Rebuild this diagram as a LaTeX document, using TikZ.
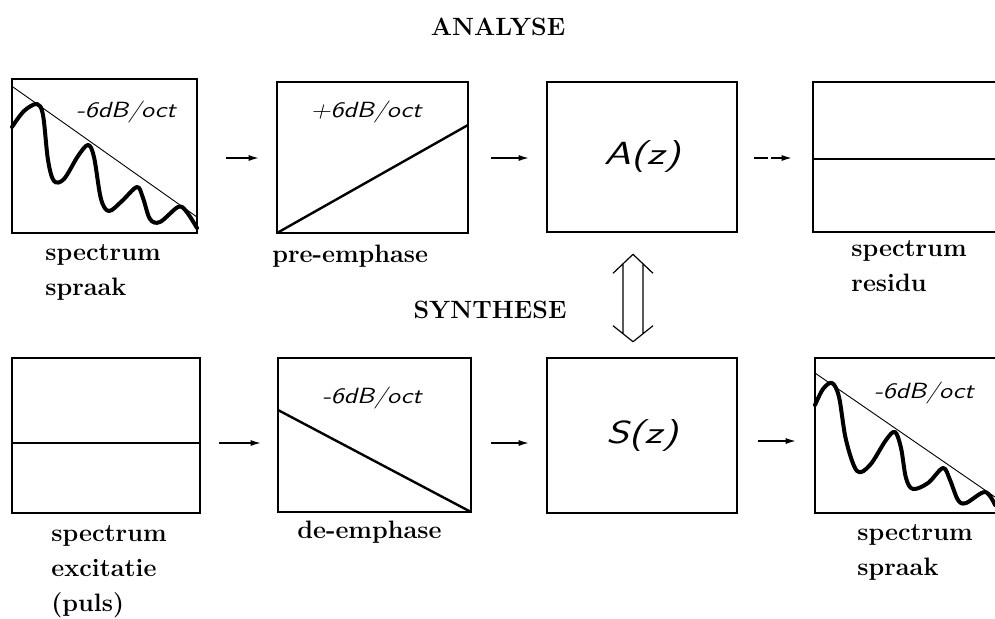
\documentclass[tikz,border=0pt]{standalone}
\usepackage{graphicx}
\usetikzlibrary{arrows.meta,calc}
\begin{document}
\begin{tikzpicture}[x=0.5pt,y=-0.5pt,
  box/.style={draw,line width=1.3pt,inner sep=0pt},
  arr/.style={line width=0.6pt,-{Latex[length=5pt,width=3pt]}},
  lbl/.style={font=\fontsize{12.6}{17.5}\selectfont\bfseries,align=left,inner sep=0pt},
  title/.style={font=\fontsize{12.5}{15}\selectfont\bfseries,inner sep=0pt},
  hand/.style={font=\fontsize{11}{12}\selectfont\sffamily\itshape,inner sep=0pt},
  wave/.style={line width=2pt,line join=round,line cap=round},
  thinline/.style={line width=0.45pt},
  slope/.style={line width=1.2pt}]
\clip (0,0) rectangle (995,618);
\fill[white] (0,0) rectangle (995,618);

% titles
\node[title] (ana) at (498,27) {ANALYSE};
\node[title] (syn) at (490,310) {SYNTHESE};

% top row boxes
\node[box,minimum width=92.5pt,minimum height=77pt] (b1) at (104.5,156) {};
\node[box,minimum width=95.5pt,minimum height=75.5pt] (b2) at (372.5,157.5) {};
\node[box,minimum width=95pt,minimum height=75pt] (b3) at (642,157) {\scalebox{1.35}[1]{\fontsize{16}{18}\selectfont\sffamily\itshape A(z)}};
\node[box,minimum width=95pt,minimum height=75pt] (b4) at (908,157) {};

% bottom row boxes
\node[box,minimum width=94pt,minimum height=77.5pt] (b5) at (106,435.5) {};
\node[box,minimum width=96.5pt,minimum height=77pt] (b6) at (374.5,435) {};
\node[box,minimum width=95pt,minimum height=77.5pt] (b7) at (642,435.5) {\scalebox{1.35}[1]{\fontsize{16}{18}\selectfont\sffamily\itshape S(z)}};
\node[box,minimum width=95pt,minimum height=77.5pt] (b8) at (910,435.5) {};

% box 1 contents
\draw[thinline] (13,87) -- (197,217);
\draw[wave] plot[smooth,tension=0.55] coordinates {(12,127) (24,111) (37,104) (43,115) (48,160) (54,181) (64,179) (78,156) (88,145) (94,157) (101,199) (109,211) (122,201) (137,187) (143,198) (150,219) (160,222) (178,207) (186,211) (197,228)};
\node[hand] (t1) at (126,112) {\scalebox{1.2}[1]{-6dB/oct}};

% box 2 contents
\draw[slope] (277,233) -- (468,125);
\node[hand] (t2) at (366,112) {\scalebox{1.2}[1]{+6dB/oct}};

% box 4 contents
\draw[line width=1pt] (813,159) -- (995,159);

% box 5 contents
\draw[line width=1pt] (12,443) -- (200,443);

% box 6 contents
\draw[slope] (278,410) -- (471,512);
\node[hand] (t6) at (372,398) {\scalebox{1.2}[1]{-6dB/oct}};

% box 8 contents
\draw[thinline] (815,373) -- (995,497);
\draw[wave] plot[smooth,tension=0.55] coordinates {(815,405) (823,389) (832,383) (839,397) (846,440) (857,471) (870,465) (886,440) (895,432) (901,448) (906,478) (913,489) (928,483) (943,468) (950,480) (958,500) (966,503) (985,492) (995,505)};
\node[hand] (t8) at (924,393) {\scalebox{1.2}[1]{-6dB/oct}};

% labels (base anchor = baseline of the last line)
\node[lbl,anchor=base west] (l1) at (45,295) {spectrum\\spraak};
\node[lbl,anchor=base west] (l2) at (272,262) {pre-emphase};
\node[lbl,anchor=base west] (l4) at (851,291) {spectrum\\residu};
\node[lbl,anchor=base west] (l5) at (51,611) {spectrum\\excitatie\\(puls)};
\node[lbl,anchor=base west] (l6) at (297,538) {de-emphase};
\node[lbl,anchor=base west] (l8) at (857,575) {spectrum\\spraak};

% arrows
\draw[arr] ($(b1.east)+(28,2)$) -- ($(b2.west)+(-17,0.5)$);
\draw[arr] ($(b2.east)+(22,0.5)$) -- ($(b3.west)+(-17,1)$);
\draw[arr,dash pattern=on 7pt off 1.5pt] ($(b3.east)+(16,1)$) -- ($(b4.west)+(-20,1)$);
\draw[arr] ($(b5.east)+(18,7.5)$) -- ($(b6.west)+(-16,8)$);
\draw[arr] ($(b6.east)+(19,8)$) -- ($(b7.west)+(-17,7.5)$);
\draw[arr] ($(b7.east)+(20,5.5)$) -- ($(b8.west)+(-18,5.5)$);

% double hollow arrow between A(z) and S(z)
\coordinate (dt) at ($(b3.south)+(-9,21)$);
\coordinate (db) at ($(b7.north)+(-9,-15)$);
\draw[line width=0.6pt,line join=round]
  ($(dt)+(-20,19)$) -- (dt) -- ($(dt)+(20,19)$)
  ($(dt)+(-10,9.5)$) -- ($(db)+(-10,-8)$)
  ($(dt)+(10,9.5)$) -- ($(db)+(10,-8)$)
  ($(db)+(-20,-16)$) -- (db) -- ($(db)+(20,-16)$);
\end{tikzpicture}
\end{document}
